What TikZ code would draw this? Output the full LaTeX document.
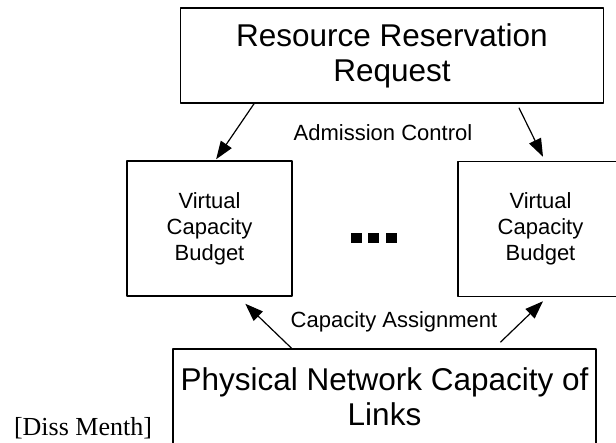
\documentclass[tikz,border=0pt]{standalone}
\usepackage{fontspec}
\setmainfont{Liberation Sans}
\newfontfamily\citefont{Liberation Serif}
\usetikzlibrary{arrows.meta,calc}
\begin{document}
\begin{tikzpicture}[x=1pt, y=1pt, line width=1.5pt, line join=round, >={Triangle[length=18pt,width=13pt]},
	bigbox/.style={draw, minimum width=423pt, minimum height=95pt, inner sep=0pt, align=center, font=\fontsize{31.5}{35}\selectfont},
	budget/.style={draw, minimum width=165pt, minimum height=135pt, inner sep=0pt, align=center, font=\fontsize{22}{26}\selectfont},
	conn/.style={->, line width=1.2pt}]
	\def\w{616} \def\h{442}
	\clip (0,0) rectangle (\w,\h);
	\node[bigbox] (request) at (392,386.5) {Resource Reservation\\Request};
	\node[budget] (vcbL) at (209.5,213.5) {Virtual\\Capacity\\Budget};
	\node[budget] (vcbR) at (540.5,213) {Virtual\\Capacity\\Budget};
	\node[bigbox] (phys) at (384.5,45.5) {Physical Network Capacity of\\Links};
	\foreach \x in {356,373,391} \fill (\x-5.5,199) rectangle ++(11,10);
	\draw[conn] ($(request.south west)!.175!(request.south east)$) -- ($(vcbL.north west)!.54!(vcbL.north east)+(0,1)$);
	\draw[conn] ($(request.south west)!.799!(request.south east)+(0,-4)$) -- ($(vcbR.north west)!.515!(vcbR.north east)+(0,4)$);
	\draw[conn] ($(phys.north west)!.281!(phys.north east)$) -- ($(vcbL.south west)!.715!(vcbL.south east)+(0,-7)$);
	\draw[conn] ($(phys.north west)!.773!(phys.north east)+(0,6)$) -- ($(vcbR.south west)!.515!(vcbR.south east)+(0,-4)$);
	\path[font=\fontsize{22}{26}\selectfont]
	(383,309) node (admit) {Admission Control}
	(394,120) node (assign) {Capacity Assignment}
	(83,14) node[font=\fontsize{26}{30}\citefont] (cite) {[Diss Menth]};
\end{tikzpicture}
\end{document}
